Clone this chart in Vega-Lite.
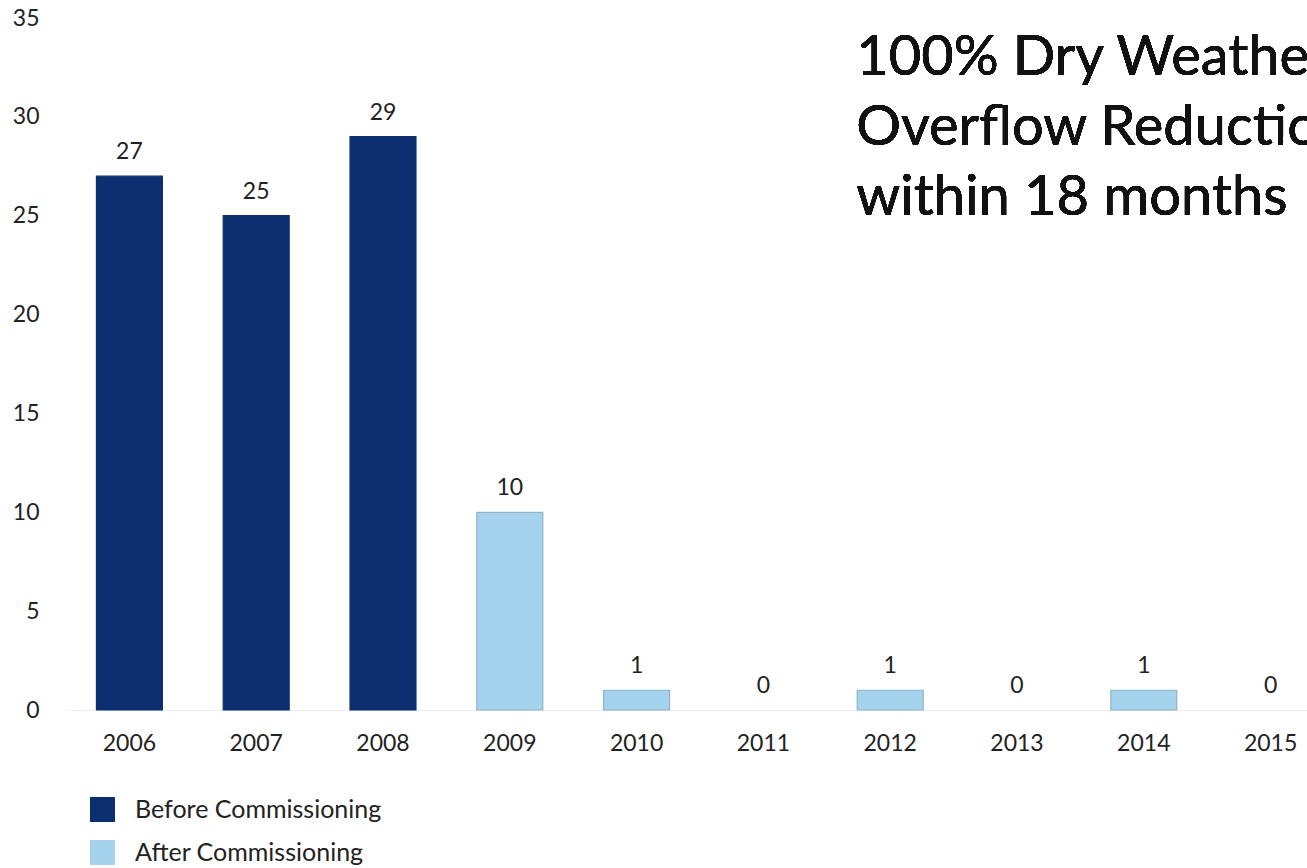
{
  "$schema": "https://vega.github.io/schema/vega-lite/v6.json",
  "autosize": {"type": "none"},
  "width": 1241,
  "height": 692,
  "padding": {"left": 66, "top": 18, "right": 0, "bottom": 158},
  "background": "white",
  "config": {
    "view": {"stroke": null},
    "font": "Lato",
    "text": {"font": "Lato"}
  },
  "data": {
    "values": [
      {"year": "2006", "count": 27, "period": "Before Commissioning"},
      {"year": "2007", "count": 25, "period": "Before Commissioning"},
      {"year": "2008", "count": 29, "period": "Before Commissioning"},
      {"year": "2009", "count": 10, "period": "After Commissioning"},
      {"year": "2010", "count": 1, "period": "After Commissioning"},
      {"year": "2011", "count": 0, "period": "After Commissioning"},
      {"year": "2012", "count": 1, "period": "After Commissioning"},
      {"year": "2013", "count": 0, "period": "After Commissioning"},
      {"year": "2014", "count": 1, "period": "After Commissioning"},
      {"year": "2015", "count": 0, "period": "After Commissioning"}
    ]
  },
  "encoding": {
    "x": {
      "field": "year",
      "type": "nominal",
      "sort": null,
      "scale": {"range": [0, 1268], "paddingInner": 0.48, "paddingOuter": 0.24},
      "axis": {
        "title": null,
        "labelAngle": 0,
        "ticks": false,
        "domain": true,
        "domainColor": "#eeeeee",
        "labelFontSize": 23,
        "labelColor": "#222222",
        "labelPadding": 22,
        "labelFont": "Lato"
      }
    }
  },
  "layer": [
    {
      "mark": {"type": "bar", "strokeWidth": 1.2},
      "encoding": {
        "y": {
          "field": "count",
          "type": "quantitative",
          "scale": {"domain": [0, 35], "nice": false},
          "axis": {
            "title": null,
            "values": [0, 5, 10, 15, 20, 25, 30, 35],
            "grid": false,
            "ticks": false,
            "domain": false,
            "labelFontSize": 23,
            "labelColor": "#222222",
            "labelPadding": 27,
            "labelDy": 3,
            "labelFont": "Lato"
          }
        },
        "color": {
          "field": "period",
          "type": "nominal",
          "scale": {
            "domain": ["Before Commissioning", "After Commissioning"],
            "range": ["#0b2f6e", "#a5d2ec"]
          },
          "legend": {
            "title": null,
            "orient": "none",
            "legendX": 24,
            "legendY": 779,
            "direction": "vertical",
            "symbolType": "square",
            "symbolSize": 625,
            "symbolStrokeWidth": 0,
            "labelFontSize": 25,
            "labelColor": "#222222",
            "labelFont": "Lato",
            "labelLimit": 0,
            "labelOffset": 20,
            "rowPadding": 17,
            "padding": 0
          }
        },
        "stroke": {
          "field": "period",
          "type": "nominal",
          "scale": {
            "domain": ["Before Commissioning", "After Commissioning"],
            "range": ["#0b2f6e", "#8fb2c6"]
          },
          "legend": null
        },
        "strokeOpacity": {
          "condition": {"test": "datum.count === 0", "value": 0},
          "value": 1
        }
      }
    },
    {
      "mark": {"type": "text", "baseline": "bottom", "dy": -12, "fontSize": 23, "color": "#222222"},
      "encoding": {
        "y": {"field": "count", "type": "quantitative"},
        "text": {"field": "count", "type": "quantitative"}
      }
    },
    {
      "mark": {
        "type": "text",
        "align": "left",
        "baseline": "alphabetic",
        "dx": -34,
        "fontSize": 56,
        "lineHeight": 70,
        "color": "#111111",
        "text": ["100% Dry Weather", "Overflow Reduction", "within 18 months"]
      },
      "encoding": {
        "x": {"datum": "2012"},
        "y": {"datum": 32.1}
      }
    }
  ]
}
